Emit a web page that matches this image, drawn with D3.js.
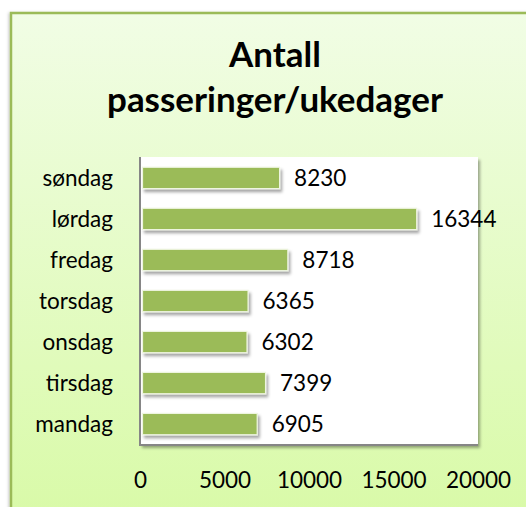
<!DOCTYPE html>
<html><head><meta charset="utf-8">
<script src="https://cdn.jsdelivr.net/npm/d3@7"></script>
<style>html,body{margin:0;padding:0;background:#fff;overflow:hidden}</style>
</head><body>
<svg id="c" width="526" height="507"></svg>
<script>
const categories = ["søndag","lørdag","fredag","torsdag","onsdag","tirsdag","mandag"];
const values = [8230,16344,8718,6365,6302,7399,6905];
const ticks = [0,5000,10000,15000,20000];
const titleLines = ["Antall","passeringer/ukedager"];

const svg = d3.select("#c");
const defs = svg.append("defs");
const g = defs.append("linearGradient").attr("id","bg").attr("x1",0).attr("y1",0).attr("x2",0).attr("y2",1);
g.append("stop").attr("offset","0%").attr("stop-color","#f1fde5");
g.append("stop").attr("offset","100%").attr("stop-color","#d8faa6");
const f = defs.append("filter").attr("id","sh").attr("x","-10%").attr("y","-30%").attr("width","130%").attr("height","190%");
f.append("feDropShadow").attr("dx",2).attr("dy",3).attr("stdDeviation",1.6).attr("flood-color","#000").attr("flood-opacity",0.35);
const f2 = defs.append("filter").attr("id","fsh").attr("x","-5%").attr("y","-5%").attr("width","110%").attr("height","110%");
f2.append("feDropShadow").attr("dx",-1).attr("dy",1).attr("stdDeviation",1.5).attr("flood-color","#000").attr("flood-opacity",0.25);

// frame
svg.append("rect").attr("x",11).attr("y",13).attr("width",540).attr("height",520)
  .attr("fill","url(#bg)").attr("stroke","#9bbb59").attr("stroke-width",2.5).attr("filter","url(#fsh)");

const font = "Lato, 'Open Sans', sans-serif";
const L = 140, R = 478, T = 157, B = 445;
const x = d3.scaleLinear().domain([0,20000]).range([L,R]);
const y = d3.scaleBand().domain(categories).range([T,B]).paddingInner(0.48).paddingOuter(0.25);

// plot area
svg.append("rect").attr("x",L).attr("y",T).attr("width",R-L).attr("height",B-T).attr("fill","#fff").attr("filter","url(#sh)");

// bars
svg.append("g").selectAll("rect").data(values).join("rect")
  .attr("x",x(0)+2.5).attr("y",(d,i)=>y(categories[i]))
  .attr("width",d=>x(d)-x(0)-2).attr("height",y.bandwidth())
  .attr("fill","#9bbb59").attr("stroke","#eef5e0").attr("stroke-width",1.2)
  .attr("filter","url(#sh)");

// axis lines
svg.append("line").attr("x1",L).attr("x2",L).attr("y1",T).attr("y2",B+1).attr("stroke","#868686").attr("stroke-width",2);
svg.append("line").attr("x1",L-1).attr("x2",R).attr("y1",B).attr("y2",B).attr("stroke","#868686").attr("stroke-width",2);

// value labels
svg.append("g").selectAll("text").data(values).join("text")
  .attr("x",d=>x(d)+15).attr("y",(d,i)=>y(categories[i])+y.bandwidth()/2)
  .attr("dy","0.36em").attr("font-family",font).attr("font-size",22.5).attr("fill","#000")
  .text(d=>d);

// category labels
const yAxis = d3.axisLeft(y).tickSize(0).tickPadding(0);
const ya = svg.append("g").attr("transform","translate(113,0)").call(yAxis);
ya.select(".domain").remove();
ya.selectAll("text").attr("font-family",font).attr("font-size",22.5).attr("fill","#000").attr("dy","0.36em");

// x ticks
const xAxis = d3.axisBottom(x).tickValues(ticks).tickSize(0).tickPadding(0).tickFormat(d3.format("d"));
const xa = svg.append("g").attr("transform","translate(0,488)").call(xAxis);
xa.select(".domain").remove();
xa.selectAll("text").attr("font-family",font).attr("font-size",22.5).attr("fill","#000").attr("dy",0);

// title
const tt = svg.append("text").attr("text-anchor","middle").attr("font-family",font).attr("font-weight","bold").attr("fill","#000");
tt.append("tspan").attr("x",275).attr("y",67).text(titleLines[0]);
tt.append("tspan").attr("x",275).attr("y",112).text(titleLines[1]);
tt.attr("font-size",32);
const w = tt.select("tspan:nth-child(2)").node().getComputedTextLength();
tt.attr("font-size",32*336/w);
</script>
</body></html>
